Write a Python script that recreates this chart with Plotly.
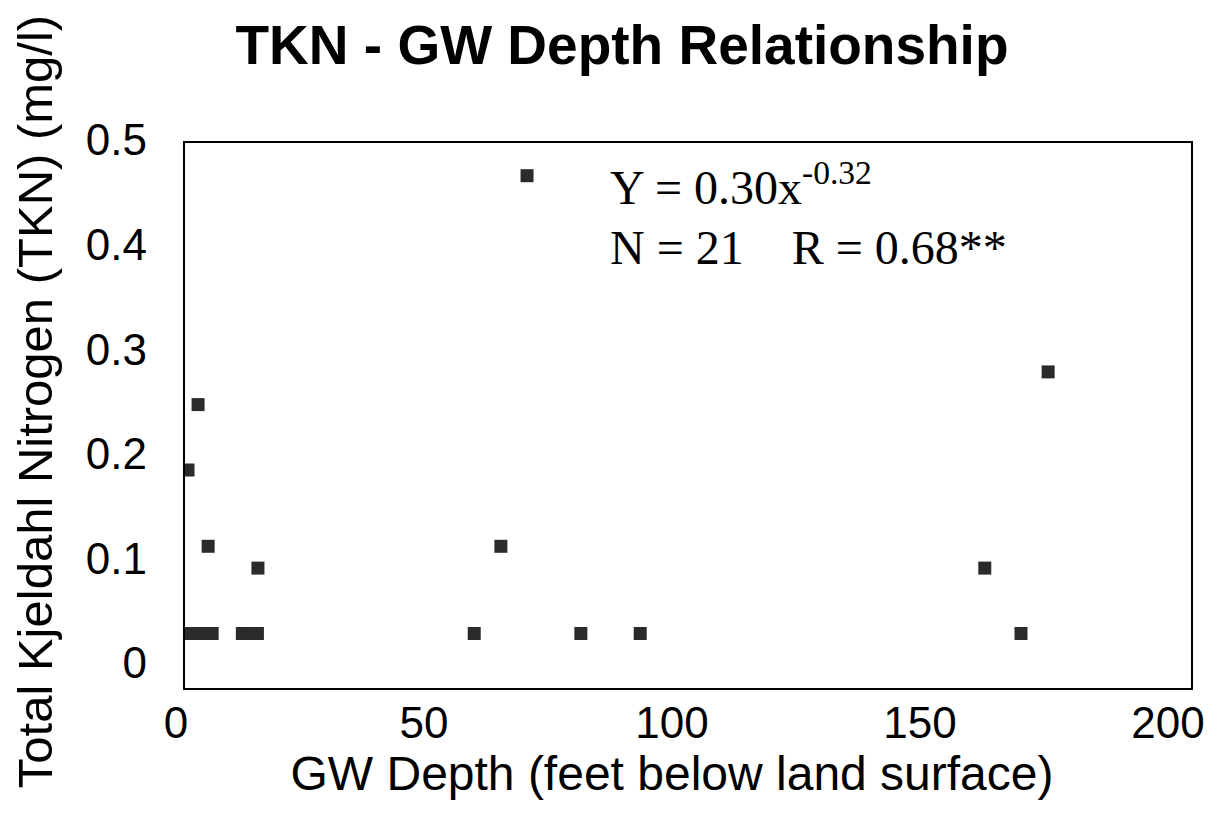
import plotly.graph_objects as go

# Data
gw_depth = [68.0, 171.6, 2.6, 0.6, 4.6, 62.8, 14.5, 159.0, 166.2, 57.5, 78.7, 90.5,
            1.2, 2.2, 3.2, 4.2, 5.4, 11.4, 12.4, 13.4, 14.4]
tkn = [0.47, 0.29, 0.26, 0.20, 0.13, 0.13, 0.11, 0.11, 0.05, 0.05, 0.05, 0.05,
       0.05, 0.05, 0.05, 0.05, 0.05, 0.05, 0.05, 0.05, 0.05]

x_ticks = [0, 50, 100, 150, 200]
x_tick_labels = ["0", "50", "100", "150", "200"]
y_ticks = [0, 0.1, 0.2, 0.3, 0.4, 0.5]
y_tick_labels = ["0", "0.1", "0.2", "0.3", "0.4", "0.5"]

title_text = "TKN - GW Depth Relationship"
x_title = "GW Depth (feet below land surface)"
y_title = "Total Kjeldahl Nitrogen (TKN) (mg/l)"
eq_line1 = "Y = 0.30x<sup>-0.32</sup>"
eq_line2 = "N = 21    R = 0.68**"

# Figure geometry (pixels)
FIG_W, FIG_H = 1226, 828
L, R, T, B = 165, 1183, 130, 680          # plotting area
W, H = R - L, B - T
BOX_L, BOX_T = 177, 135                   # framed data box
LAB_X0, LAB_X1 = 168, 1160                # where x tick labels 0 / 200 sit (scan offset)
LAB_Y0, LAB_Y1 = 655, 132                 # where y tick labels 0 / 0.5 sit (scan offset)

fig = go.Figure()
fig.add_trace(go.Scatter(
    x=gw_depth, y=tkn, mode="markers",
    marker=dict(symbol="square", size=13, color="#2b2b2b", line=dict(width=0)),
    xaxis="x", yaxis="y", hoverinfo="x+y",
))
# invisible trace so the label-only axes get rendered
fig.add_trace(go.Scatter(x=[None], y=[None], xaxis="x2", yaxis="y2",
                         mode="markers", showlegend=False, hoverinfo="skip"))

fig.update_layout(
    width=FIG_W, height=FIG_H,
    margin=dict(l=L, r=FIG_W - R, t=T, b=FIG_H - B, autoexpand=False),
    paper_bgcolor="white", plot_bgcolor="rgba(0,0,0,0)",
    showlegend=False,
    font=dict(family="Liberation Sans, Arial, sans-serif", color="black"),
    title=dict(
        text="<b>" + title_text + "</b>",
        x=614 / FIG_W, xanchor="center", xref="container",
        y=1 - 37 / FIG_H, yanchor="middle", yref="container",
        font=dict(size=55, family="Liberation Sans, Arial, sans-serif", color="black"),
    ),
    # data axes: the framed box
    xaxis=dict(
        domain=[(BOX_L - L) / W, 1], range=[0, 200], anchor="y",
        showgrid=False, zeroline=False, showline=True, linecolor="black",
        linewidth=2, mirror=True, ticks="", showticklabels=False, automargin=False,
    ),
    yaxis=dict(
        domain=[0, (B - BOX_T) / H], range=[0, 0.5], anchor="x",
        showgrid=False, zeroline=False, showline=True, linecolor="black",
        linewidth=2, mirror=True, ticks="", showticklabels=False, automargin=False,
    ),
    # label axes: tick labels and titles, placed where the scan shows them
    xaxis2=dict(
        domain=[(LAB_X0 - L) / W, (LAB_X1 - L) / W], range=[0, 200], anchor="y2",
        tickvals=x_ticks, ticktext=x_tick_labels,
        showgrid=False, zeroline=False, showline=False, ticks="",
        ticklabelstandoff=30, tickfont=dict(size=44), automargin=False,
        title=dict(text=x_title, font=dict(size=48), standoff=0),
    ),
    yaxis2=dict(
        domain=[(B - LAB_Y0) / H, (B - LAB_Y1) / H], range=[0, 0.5], anchor="x2",
        tickvals=y_ticks, ticktext=y_tick_labels,
        showgrid=False, zeroline=False, showline=False, ticks="",
        ticklabelstandoff=28, tickfont=dict(size=44), automargin=False,
        title=dict(text=y_title, font=dict(size=49), standoff=42),
    ),
)

serif = "Liberation Serif, Times New Roman, serif"
fig.add_annotation(x=84.0, y=0.462, xref="x", yref="y", text=eq_line1,
                   showarrow=False, xanchor="left", yanchor="middle",
                   font=dict(family=serif, size=48, color="black"))
fig.add_annotation(x=84.0, y=0.404, xref="x", yref="y", text=eq_line2,
                   showarrow=False, xanchor="left", yanchor="middle",
                   font=dict(family=serif, size=48, color="black"))

fig.write_html("out.html")
